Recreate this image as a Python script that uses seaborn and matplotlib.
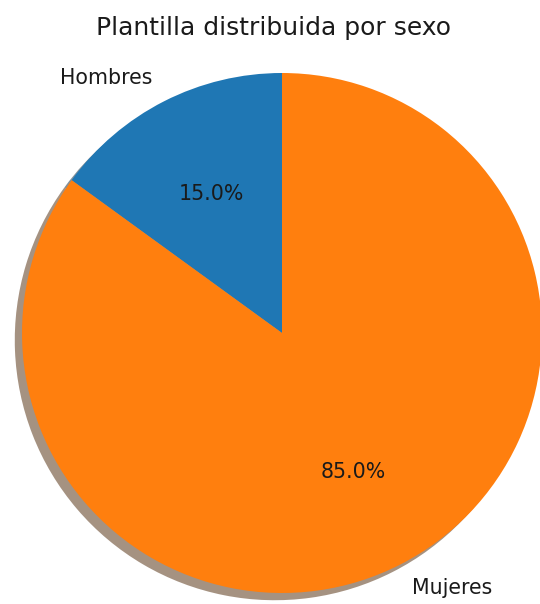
import matplotlib
matplotlib.use("Agg")
import matplotlib.pyplot as plt
import seaborn as sns

# Workforce split by sex
labels = ["Hombres", "Mujeres"]
shares = [15.0, 85.0]
title = "Plantilla distribuida por sexo"

sns.set_style("white")
plt.rcParams["font.family"] = ["DejaVu Sans"]
colors = sns.color_palette("tab10", 2)

W, H = 540, 604
fig = plt.figure(figsize=(W / 100, H / 100), dpi=100)

# square axes: pie centre at (282, 333) px from top-left, radius 260 px
cx, cy, r = 282, 333, 260
ax = fig.add_axes([(cx - r) / W, (H - cy - r) / H, 2 * r / W, 2 * r / H])

wedges, texts, autotexts = ax.pie(
    shares,
    labels=labels,
    colors=colors,
    autopct="%1.1f%%",
    startangle=90,
    shadow=True,
    wedgeprops={"linewidth": 0, "edgecolor": "none"},
    textprops={"fontsize": 14.8, "color": "#1a1a1a"},
)
ax.set_xlim(-1, 1)
ax.set_ylim(-1, 1)
ax.set_aspect("equal")
ax.axis("off")

fig.text(273.5 / W, 1 - 35 / H, title, ha="center", va="baseline",
         fontsize=18, color="#1a1a1a")

fig.savefig("out.png", dpi=100)
